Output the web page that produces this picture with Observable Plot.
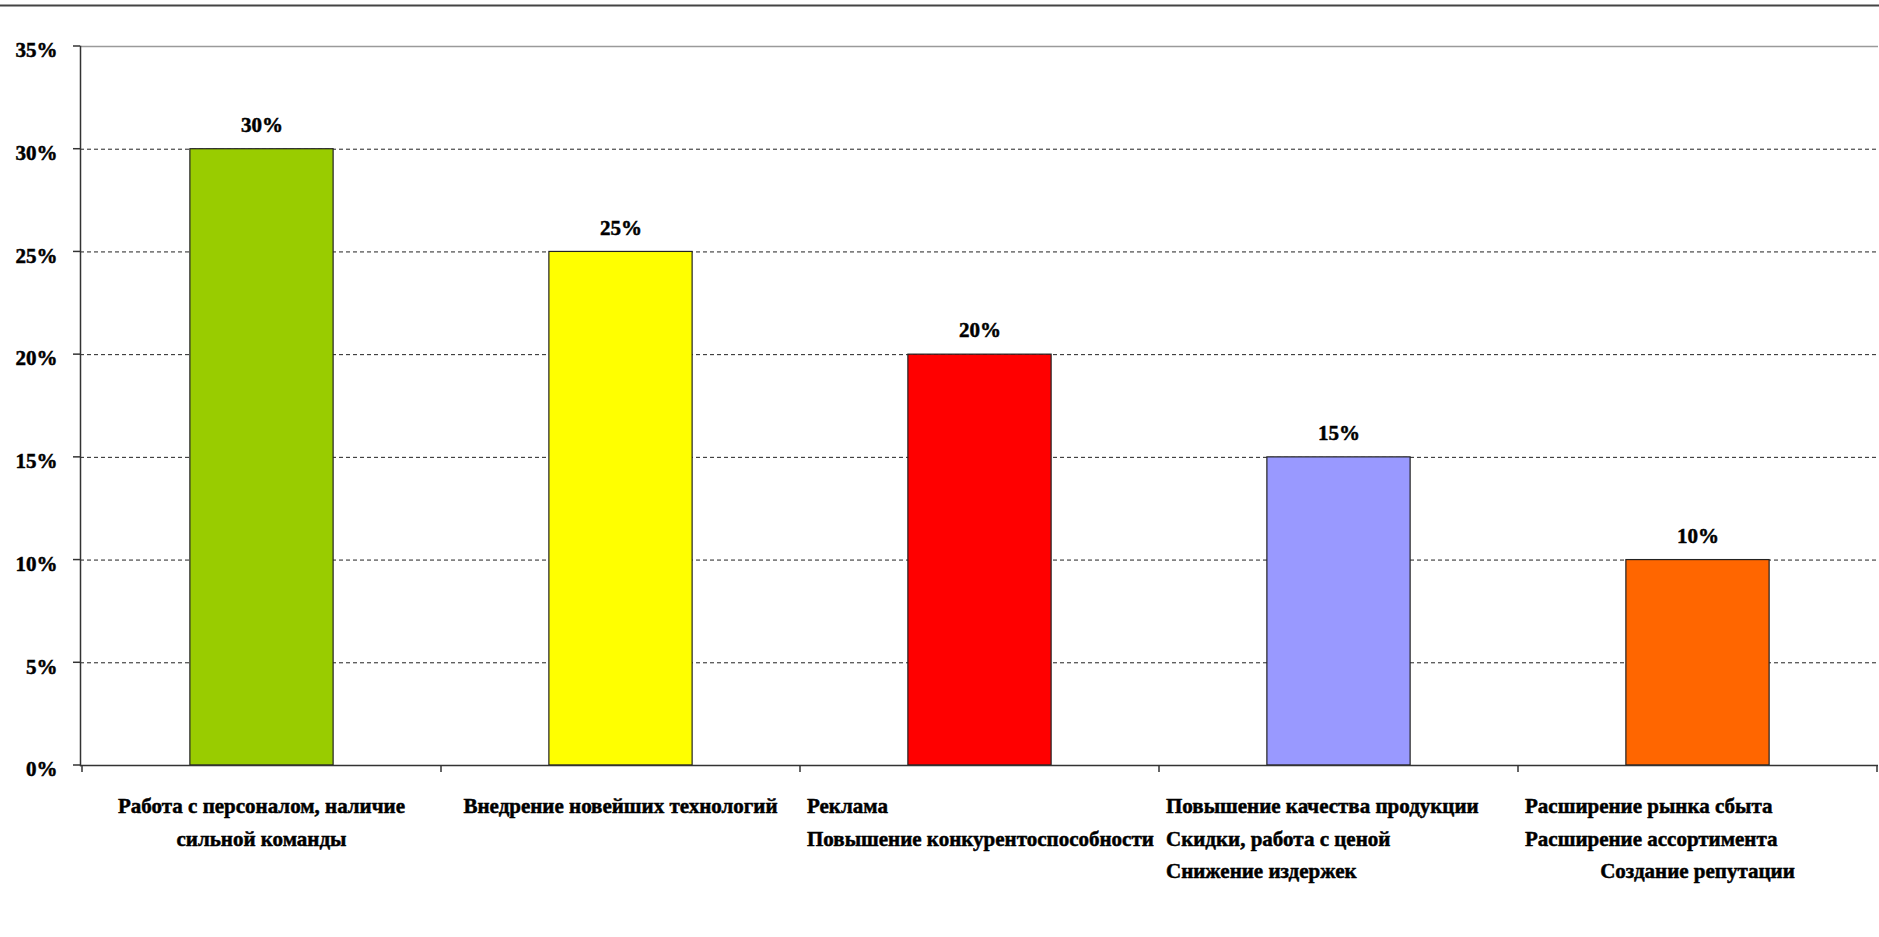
<!DOCTYPE html>
<html>
<head>
<meta charset="utf-8">
<script src="https://cdn.jsdelivr.net/npm/d3@7"></script>
<script src="https://cdn.jsdelivr.net/npm/@observablehq/plot@0.6"></script>
<style>
  html, body { margin: 0; padding: 0; background: #fff; overflow: hidden; }
  #chart svg { display: block; }
  #chart svg text { stroke: #000; stroke-width: 0.5px; paint-order: stroke; }
</style>
</head>
<body>
<div id="chart"></div>
<script>
// Category labels, one entry per line as they are set under the axis
const tickLabels = [
  ["Работа с персоналом, наличие", "сильной команды"],
  ["Внедрение новейших технологий"],
  ["Реклама", "Повышение конкурентоспособности"],
  ["Повышение качества продукции", "Скидки, работа с ценой", "Снижение издержек"],
  ["Расширение рынка сбыта", "Расширение ассортимента", "Создание репутации"]
];
// Share of answers per category
const values = [0.30, 0.25, 0.20, 0.15, 0.10];
// Bar fills
const barColors = ["#99cc00", "#ffff00", "#ff0000", "#9999ff", "#ff6600"];
// Value-axis ticks
const yTicks = [0, 0.05, 0.10, 0.15, 0.20, 0.25, 0.30, 0.35];

// How each label line sits inside its band
const labelAlign = [
  ["middle", "middle"],
  ["middle"],
  ["start", "start"],
  ["start", "start", "start"],
  ["start", "start", "middle"]
];

const categories = tickLabels.map(lines => lines.join(" "));
const data = categories.map((category, i) => ({category, value: values[i]}));

const W = 1879, H = 937;
const M = {top: 46, right: 1, bottom: 172, left: 80};
const FONT = '"Liberation Serif", "Times New Roman", serif';
const FS = 21;
const pct = d3.format(".0%");
const bandW = (W - M.left - M.right) / categories.length;
const barInset = bandW * 0.3;

// Category axis (ticks between bands, multi-line labels), value ticks and top border
function axesDecor(index, {x, y}, values, dims) {
  const g = d3.create("svg:g")
    .attr("font-family", FONT)
    .attr("font-size", FS)
    .attr("font-weight", "bold")
    .attr("fill", "#000");
  const bw = x.bandwidth ? x.bandwidth() : bandW;
  const y0 = dims.height - dims.marginBottom;
  const x0 = dims.marginLeft;

  // top border of the chart area
  g.append("line")
    .attr("x1", 0).attr("x2", dims.width)
    .attr("y1", 5.5).attr("y2", 5.5)
    .attr("stroke", "#444").attr("stroke-width", 2);

  // value-axis tick marks
  for (const t of yTicks) {
    g.append("line")
      .attr("x1", x0 - 7).attr("x2", x0)
      .attr("y1", y(t)).attr("y2", y(t))
      .attr("stroke", "#333").attr("stroke-width", 1.5);
  }

  // category tick marks on band edges
  const edges = categories.map(c => x(c)).concat([x(categories[categories.length - 1]) + bw]);
  for (const ex of edges) {
    g.append("line")
      .attr("x1", ex).attr("x2", ex)
      .attr("y1", y0).attr("y2", y0 + 7)
      .attr("stroke", "#333").attr("stroke-width", 1.5);
  }

  // category labels
  categories.forEach((c, i) => {
    tickLabels[i].forEach((line, j) => {
      const a = labelAlign[i][j];
      const tx = a === "start" ? x(c) + 7 : x(c) + bw / 2;
      g.append("text")
        .attr("x", tx)
        .attr("y", y0 + 48 + j * 32.5)
        .attr("text-anchor", a)
        .text(line);
    });
  });
  return g.node();
}

const chart = Plot.plot({
  width: W,
  height: H,
  marginTop: M.top,
  marginRight: M.right,
  marginBottom: M.bottom,
  marginLeft: M.left,
  style: {fontFamily: FONT, fontSize: FS + "px", fontWeight: "bold", color: "#000", background: "#fff", overflow: "visible"},
  x: {domain: categories, padding: 0, axis: null},
  y: {domain: [0, 0.35], axis: null},
  color: {type: "ordinal", domain: categories, range: barColors},
  marks: [
    Plot.ruleY(yTicks.filter(t => t > 0 && t < 0.35), {stroke: "#222", strokeWidth: 1, strokeDasharray: "4,3"}),
    Plot.ruleY([0.35], {stroke: "#9a9a9a", strokeWidth: 1.5}),
    Plot.barY(data, {x: "category", y: "value", fill: "category", stroke: "#222", strokeWidth: 1.2, insetLeft: barInset, insetRight: barInset}),
    Plot.text(data, {x: "category", y: "value", text: d => pct(d.value), dy: -24, fontSize: FS, fontWeight: "bold", fill: "#000"}),
    Plot.text(yTicks, {y: d => d, text: d => pct(d), frameAnchor: "left", textAnchor: "end", dx: -23, dy: 4, fontSize: FS, fontWeight: "bold", fill: "#000"}),
    Plot.ruleY([0], {stroke: "#333", strokeWidth: 1.5}),
    Plot.frame({anchor: "left", stroke: "#333", strokeWidth: 1.5}),
    axesDecor
  ]
});

document.getElementById("chart").appendChild(chart);
</script>
</body>
</html>
